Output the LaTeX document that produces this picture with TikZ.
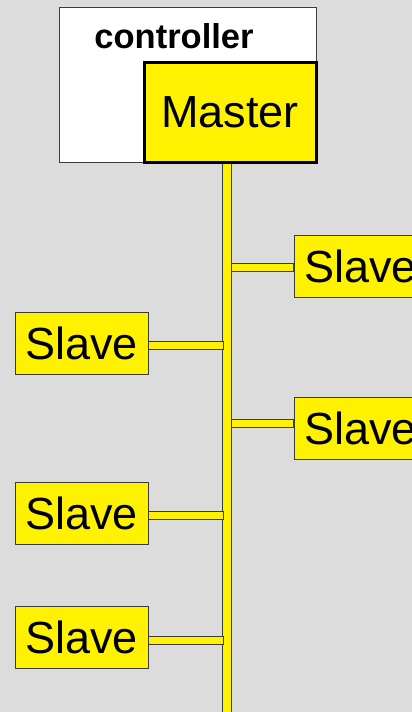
\documentclass[tikz,border=0pt]{standalone}
\usepackage{fontspec}
\setmainfont{Liberation Sans}
\definecolor{bg}{RGB}{220,220,220}
\definecolor{edge}{RGB}{60,60,60}
\begin{document}
\begin{tikzpicture}[x=1pt,y=-1pt,
  slavebox/.style={draw=edge,line width=0.8pt,fill=yellow,minimum width=133pt,minimum height=62pt,inner sep=0pt,font=\fontsize{45}{50}\selectfont},
  stub/.style={draw=edge,line width=0.8pt,fill=yellow}]
\useasboundingbox (0,0) rectangle (412,712);
\clip (0,0) rectangle (412,712);
\fill[bg] (0,0) rectangle (412,712);
% controller and master
\node[draw=edge,line width=0.8pt,fill=white,minimum width=257pt,minimum height=155pt,inner sep=0pt] (ctrl) at (187.5,84.5) {};
\node[anchor=base,font=\bfseries\fontsize{34.5}{38}\selectfont] (ctrltxt) at (174,48) {controller};
% bus
\coordinate (bustop) at (226.5,162);
\coordinate (busbot) at (226.5,720);
\draw[stub] ([xshift=-4.5pt]bustop) rectangle ([xshift=4.5pt]busbot);
\node[draw=black,line width=3pt,fill=yellow,minimum width=172pt,minimum height=100pt,inner sep=0pt,font=\fontsize{45}{50}\selectfont] (master) at (230,112) {Master};
% slaves
\node[slavebox] (r1) at (360.5,266) {Slave};
\node[slavebox] (r2) at (360.5,428) {Slave};
\node[slavebox] (l1) at (81.5,343) {Slave};
\node[slavebox] (l2) at (81.5,513.5) {Slave};
\node[slavebox] (l3) at (81.5,637) {Slave};
% stubs
\draw[stub] (r1.west |- 0,263.5) rectangle (231,271.5);
\draw[stub] (r2.west |- 0,419) rectangle (231,427);
\draw[stub] (l1.east |- 0,341) rectangle (223,349);
\draw[stub] (l2.east |- 0,511.5) rectangle (223,519.5);
\draw[stub] (l3.east |- 0,636) rectangle (223,644);
\end{tikzpicture}
\end{document}
